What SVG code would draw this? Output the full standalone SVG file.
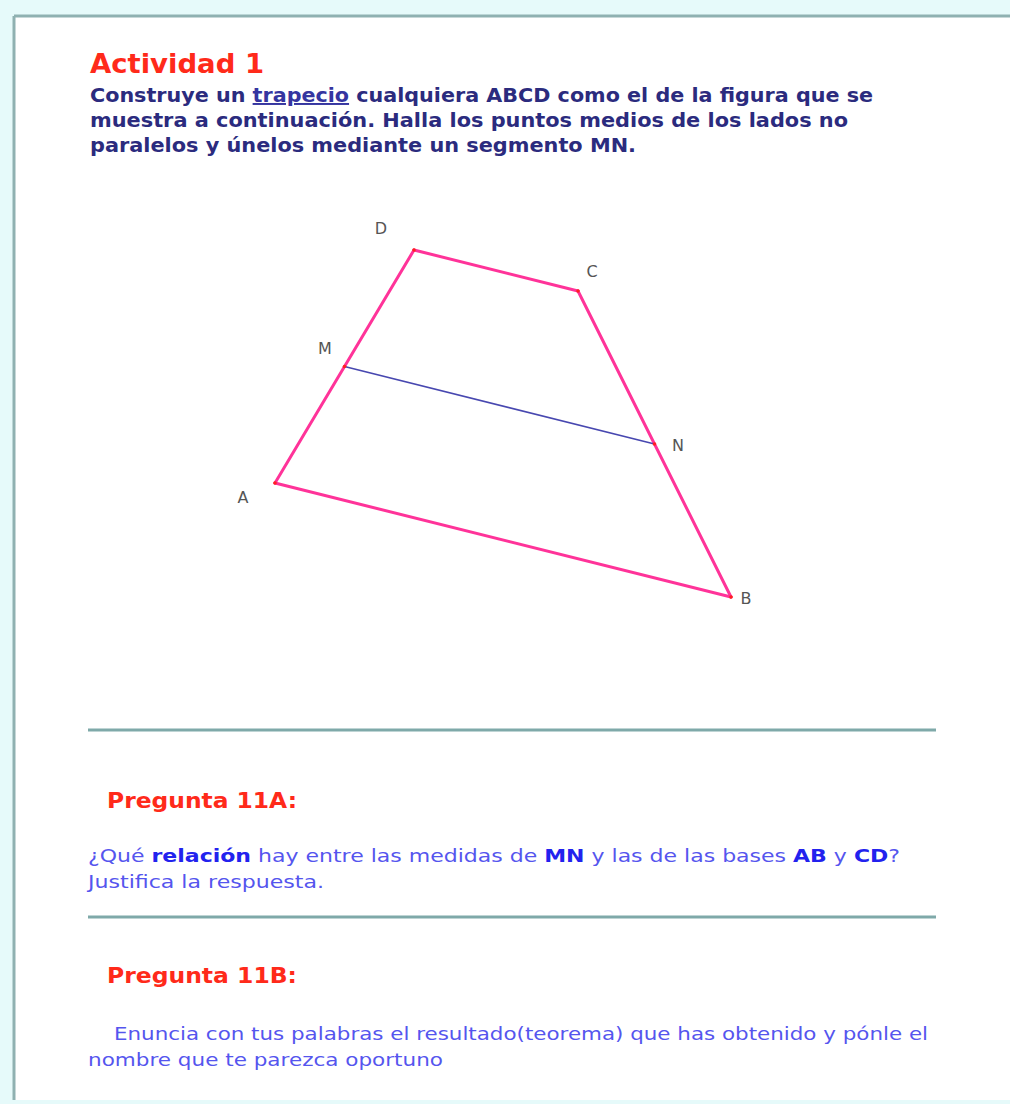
<svg xmlns="http://www.w3.org/2000/svg" width="1010" height="1104" viewBox="0 0 1010 1104">
<style>
.title{font-family:"DejaVu Sans","Liberation Sans",sans-serif;font-weight:bold;fill:#ff2a1a}
.body{font-family:"DejaVu Sans","Liberation Sans",sans-serif;font-weight:bold;fill:#2b2b7e;font-size:19.5px}
.q{font-family:"DejaVu Sans","Liberation Sans",sans-serif;fill:#5555ee;font-size:18.5px}
.qb{font-weight:bold;fill:#2222ee}
.lbl{font-family:"DejaVu Sans","Liberation Sans",sans-serif;fill:#555;font-size:16px;text-anchor:middle}
.side{stroke:#ff3399;stroke-width:3;fill:none;stroke-linecap:round}
.rule{stroke:#7fa9a9;stroke-width:3}
</style>
<rect x="0" y="0" width="1010" height="1104" fill="#e6fafa"/>
<rect x="14" y="16" width="996" height="1084" fill="#ffffff"/>
<line x1="14" y1="16" x2="1010" y2="16" stroke="#8fb1b1" stroke-width="3"/>
<line x1="14" y1="16" x2="14" y2="1100" stroke="#8fb1b1" stroke-width="3"/>

<g id="header">
<text class="title" x="90" y="73" font-size="26.5" textLength="174" lengthAdjust="spacingAndGlyphs">Actividad 1</text>
<text class="body" x="90" y="102" textLength="783" lengthAdjust="spacingAndGlyphs">Construye un <tspan fill="#3535a0" text-decoration="underline">trapecio</tspan> cualquiera ABCD como el de la figura que se</text>
<text class="body" x="90" y="127" textLength="758" lengthAdjust="spacingAndGlyphs">muestra a continuación. Halla los puntos medios  de los lados no</text>
<text class="body" x="90" y="152" textLength="546" lengthAdjust="spacingAndGlyphs">paralelos y únelos mediante un segmento MN.</text>
</g>

<g id="connectors">
<line id="AD" class="side" x1="275" y1="483" x2="414" y2="250"/>
<line id="DC" class="side" x1="414" y1="250" x2="578" y2="291"/>
<line id="CB" class="side" x1="578" y1="291" x2="731" y2="597"/>
<line id="BA" class="side" x1="731" y1="597" x2="275" y2="483"/>
<line id="MN" x1="344.5" y1="366.5" x2="654.5" y2="444" stroke="#4848b0" stroke-width="1.6"/>
</g>

<g id="A"><circle cx="275" cy="483" r="1.8" fill="#ff2020"/><text class="lbl" x="243" y="503">A</text></g>
<g id="B"><circle cx="731" cy="597" r="1.8" fill="#ff2020"/><text class="lbl" x="746" y="604">B</text></g>
<g id="C"><circle cx="578" cy="291" r="1.8" fill="#ff2020"/><text class="lbl" x="592" y="277">C</text></g>
<g id="D"><circle cx="414" cy="250" r="1.8" fill="#ff2020"/><text class="lbl" x="381" y="234">D</text></g>
<g id="M"><circle cx="344.5" cy="366.5" r="1.8" fill="#ff2020"/><text class="lbl" x="325" y="354">M</text></g>
<g id="N"><circle cx="654.5" cy="444" r="1.8" fill="#ff2020"/><text class="lbl" x="678" y="451">N</text></g>

<line class="rule" x1="88" y1="730" x2="936" y2="730"/>
<line class="rule" x1="88" y1="917" x2="936" y2="917"/>

<g id="q11a">
<text class="title" x="107" y="808" font-size="21" textLength="190" lengthAdjust="spacingAndGlyphs">Pregunta 11A:</text>
<text class="q" x="88" y="862" textLength="812" lengthAdjust="spacingAndGlyphs">¿Qué <tspan class="qb">relación</tspan> hay entre las medidas de <tspan class="qb">MN</tspan> y las de las bases <tspan class="qb">AB</tspan> y <tspan class="qb">CD</tspan>?</text>
<text class="q" x="88" y="888" textLength="236" lengthAdjust="spacingAndGlyphs">Justifica la respuesta.</text>
</g>

<g id="q11b">
<text class="title" x="107" y="983" font-size="21" textLength="190" lengthAdjust="spacingAndGlyphs">Pregunta 11B:</text>
<text class="q" x="114" y="1040" textLength="814" lengthAdjust="spacingAndGlyphs">Enuncia con tus palabras el resultado(teorema) que has obtenido y pónle el</text>
<text class="q" x="88" y="1066" textLength="355" lengthAdjust="spacingAndGlyphs">nombre que te parezca oportuno</text>
</g>
</svg>
